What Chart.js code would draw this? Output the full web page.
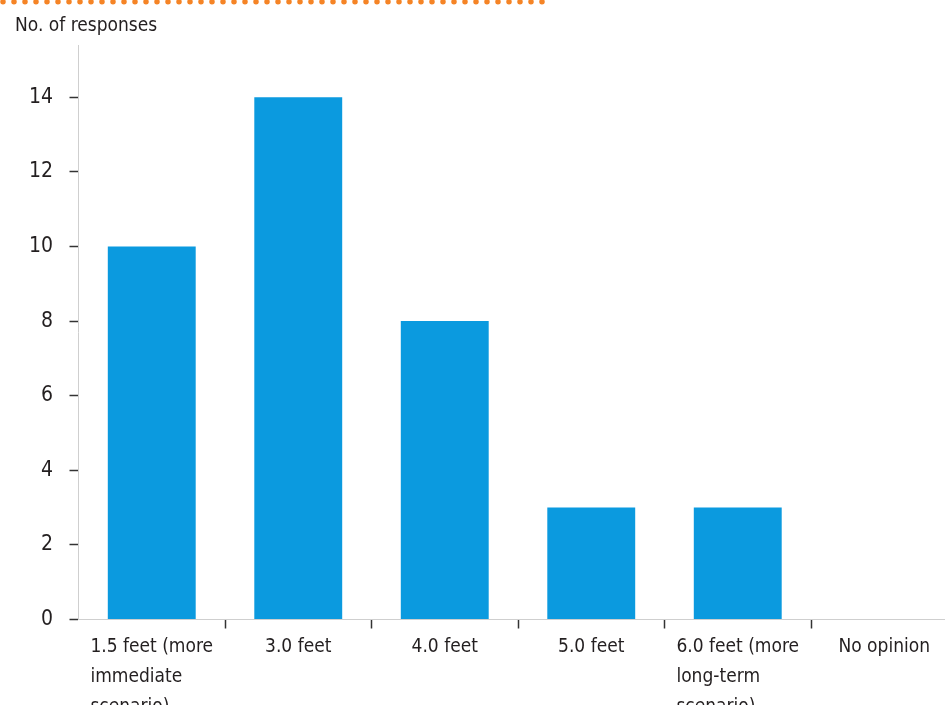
<!DOCTYPE html>
<html><head><meta charset="utf-8">
<script src="https://cdn.jsdelivr.net/npm/chart.js@4.4.1/dist/chart.umd.min.js"></script>
<style>
html,body{margin:0;padding:0;overflow:hidden;background:#fff;}
#wrap{position:relative;width:960px;height:705px;}
</style></head><body>
<div id="wrap"><canvas id="c"></canvas></div>
<script>
const categories = [
  ["1.5 feet (more", "immediate", "scenario)"],
  ["3.0 feet"],
  ["4.0 feet"],
  ["5.0 feet"],
  ["6.0 feet (more", "long-term", "scenario)"],
  ["No opinion"]
];
const responses = [10, 14, 8, 3, 3, 0];
const yTickValues = [0, 2, 4, 6, 8, 10, 12, 14];
const yAxisTitle = "No. of responses";

const FONT = '"DejaVu Sans Condensed","Liberation Sans Narrow",sans-serif';
const TEXT = '#231F20';
const FS = 19;

const decoration = {
  id: 'decoration',
  beforeDraw(chart) {
    const ctx = chart.ctx;
    ctx.save();
    ctx.strokeStyle = '#F58426';
    ctx.lineWidth = 5.5;
    ctx.lineCap = 'round';
    ctx.setLineDash([0, 11]);
    ctx.beginPath();
    ctx.moveTo(3, 1.8);
    ctx.lineTo(548, 1.8);
    ctx.stroke();
    ctx.restore();
  }
};

const xLabels = {
  id: 'xLabels',
  afterDraw(chart) {
    const xs = chart.scales.x;
    const ctx = chart.ctx;
    ctx.save();
    ctx.font = FS + 'px ' + FONT;
    ctx.fillStyle = TEXT;
    ctx.textAlign = 'left';
    ctx.textBaseline = 'alphabetic';
    chart.data.labels.forEach((lab, i) => {
      const lines = Array.isArray(lab) ? lab : [lab];
      const w = Math.max(...lines.map(s => ctx.measureText(s).width));
      const left = xs.getPixelForValue(i) - w / 2;
      lines.forEach((s, k) => ctx.fillText(s, left, xs.top + 32.5 + k * 30));
    });
    ctx.restore();
  }
};

new Chart(document.getElementById('c'), {
  type: 'bar',
  data: {
    labels: categories,
    datasets: [{
      data: responses,
      backgroundColor: '#0B9ADF',
      borderWidth: 0,
      barPercentage: 0.6,
      categoryPercentage: 1
    }]
  },
  options: {
    responsive: true,
    maintainAspectRatio: false,
    animation: false,
    devicePixelRatio: 1,
    layout: { padding: { left: 15, right: 2.5, top: 0, bottom: 0 } },
    plugins: {
      legend: { display: false },
      tooltip: { enabled: false },
      title: {
        display: true,
        text: yAxisTitle,
        align: 'start',
        color: TEXT,
        font: { family: FONT, size: FS, weight: 'normal', lineHeight: 1.2 },
        padding: { top: 15, bottom: 7.2 }
      }
    },
    scales: {
      x: {
        offset: true,
        grid: {
          offset: true,
          drawOnChartArea: false,
          drawTicks: true,
          tickLength: 9,
          tickWidth: 1.5,
          tickColor: (c) => c.index === 0 ? 'rgba(0,0,0,0)' : '#333333'
        },
        border: { display: true, color: '#cfcfcf', width: 1 },
        ticks: { display: false },
        afterFit(s) { s.height = 85.5; }
      },
      y: {
        min: 0,
        max: 15.4,
        ticks: { stepSize: 2, padding: 16.5, color: TEXT, font: { family: FONT, size: 21 } },
        afterBuildTicks(s) { s.ticks = s.ticks.filter(t => yTickValues.includes(t.value)); },
        grid: { drawOnChartArea: false, drawTicks: true, tickLength: 9, tickWidth: 1.5, tickColor: '#333333' },
        border: { display: true, color: '#cfcfcf', width: 1 },
        afterFit(s) { s.width = 63.5; }
      }
    }
  },
  plugins: [decoration, xLabels]
});
</script>
</body></html>
